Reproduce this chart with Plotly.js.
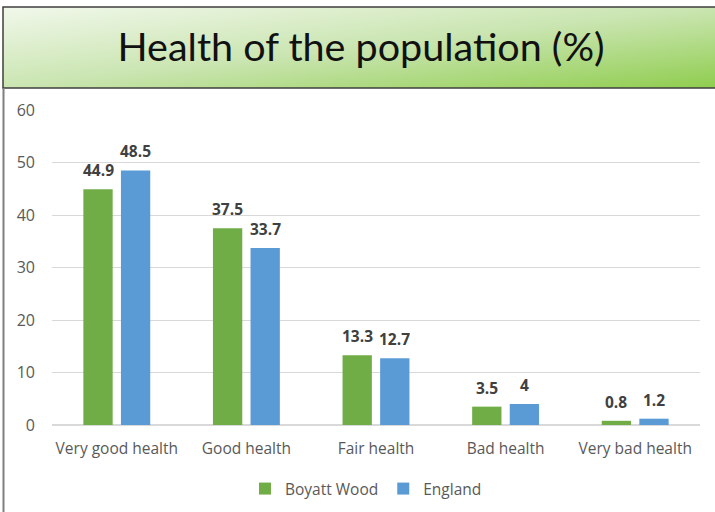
<!DOCTYPE html>
<html>
<head>
<meta charset="utf-8">
<script src="https://cdn.plot.ly/plotly-3.0.1.min.js"></script>
<style>html,body{margin:0;padding:0;background:#fff;}#chart{width:715px;height:512px;}</style>
</head>
<body>
<div id="chart"></div>
<script>
const categories = ["Very good health", "Good health", "Fair health", "Bad health", "Very bad health"];
const boyattWood = [44.9, 37.5, 13.3, 3.5, 0.8];
const england = [48.5, 33.7, 12.7, 4, 1.2];
const seriesNames = ["Boyatt Wood", "England"];
const yTicks = [0, 10, 20, 30, 40, 50, 60];

const W = 715, H = 512;
const L = 52, R = 15, T = 110, B = 87;
const pw = W - L - R, ph = H - T - B;
const px = x => (x - L) / pw;
const py = y => (H - B - y) / ph;

const BARGAP = 0.42, BARGROUPGAP = 0.22;
const slot = (1 - BARGAP) * (pw / categories.length) / 2;

const gradSvg = '<svg xmlns="http://www.w3.org/2000/svg" width="100" height="100" preserveAspectRatio="none" viewBox="0 0 100 100">' +
  '<defs><linearGradient id="g" x1="0" y1="0" x2="1" y2="1">' +
  '<stop offset="0" stop-color="#f1f8eb"/><stop offset="0.5" stop-color="#cae5b1"/><stop offset="1" stop-color="#8fcd4e"/>' +
  '</linearGradient></defs><rect width="100" height="100" fill="url(#g)"/></svg>';
const gradUri = 'data:image/svg+xml;base64,' + btoa(gradSvg);

const baseFamily = "'Open Sans', Lato, sans-serif";
const labelFont = {family: baseFamily, size: 15.5, color: "#404040", weight: "bold"};

const traces = [
  {type: "bar", name: seriesNames[0], x: categories, y: boyattWood, marker: {color: "#70ad47"}, hoverinfo: "none"},
  {type: "bar", name: seriesNames[1], x: categories, y: england, marker: {color: "#5b9bd5"}, hoverinfo: "none"}
];

const labelAnns = [];
[boyattWood, england].forEach((vals, si) => {
  vals.forEach((v, i) => {
    labelAnns.push({x: categories[i], y: v, xref: "x", yref: "y", text: String(v), showarrow: false,
      xshift: (si === 0 ? -1 : 1) * slot / 2, yshift: 6, yanchor: "bottom", xanchor: "center", font: labelFont});
  });
});

const layout = {
  width: W, height: H,
  margin: {l: L, r: R, t: T, b: B, pad: 0, autoexpand: false},
  paper_bgcolor: "#ffffff", plot_bgcolor: "#ffffff",
  font: {family: baseFamily, size: 15, color: "#595959"},
  title: {text: "Health of the population (%)", x: 0.505, xanchor: "center", y: 1 - 47 / H, yanchor: "middle",
    font: {family: "Lato, 'Open Sans', sans-serif", size: 39.5, color: "#111111"}},
  barmode: "group", bargap: BARGAP, bargroupgap: BARGROUPGAP,
  xaxis: {type: "category", showgrid: false, zeroline: false, showline: false, ticks: "", ticklabelstandoff: 12,
    tickfont: {family: baseFamily, size: 15.5, color: "#595959"}},
  yaxis: {range: [0, 60], tickvals: yTicks, ticktext: yTicks.map(String), showgrid: true, gridcolor: "#d9d9d9", gridwidth: 1,
    zeroline: true, zerolinecolor: "#d9d9d9", zerolinewidth: 1.5, showline: false, ticks: "", ticklabelstandoff: 16,
    tickfont: {family: baseFamily, size: 16, color: "#595959"}},
  showlegend: true,
  legend: {orientation: "h", x: px(366), xanchor: "center", y: py(489), yanchor: "middle",
    font: {family: baseFamily, size: 15.5, color: "#595959"}, traceorder: "normal", itemwidth: 30},
  annotations: labelAnns,
  images: [{source: gradUri, xref: "paper", yref: "paper", x: px(3), y: py(7), sizex: px(720) - px(3), sizey: py(7) - py(88),
    xanchor: "left", yanchor: "top", sizing: "stretch", layer: "below"}],
  shapes: [
    {type: "rect", xref: "paper", yref: "paper", x0: px(3), x1: px(722), y0: py(88), y1: py(7), line: {color: "#3f3f3f", width: 1.5}, fillcolor: "rgba(0,0,0,0)"},
    {type: "line", xref: "paper", yref: "paper", x0: px(3.5), x1: px(3.5), y0: py(88), y1: py(520), line: {color: "#7f7f7f", width: 2}}
  ]
};

Plotly.newPlot("chart", traces, layout, {staticPlot: true, displayModeBar: false});
</script>
</body>
</html>
